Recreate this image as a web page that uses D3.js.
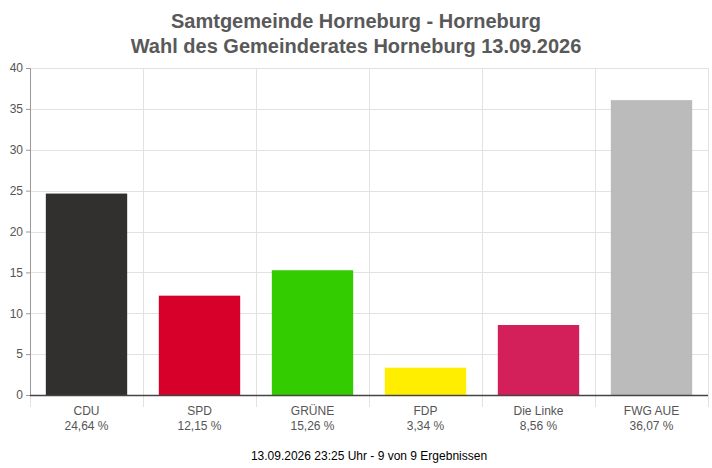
<!DOCTYPE html>
<html>
<head>
<meta charset="utf-8">
<script src="https://cdn.jsdelivr.net/npm/d3@7"></script>
<style>
  body { margin: 0; background: #fff; }
  text { font-family: 'Liberation Sans', Arial, sans-serif; }
</style>
</head>
<body>
<div id="chart"></div>
<script>
  const svgWidth = 712;
  const svgHeight = 468;
  const margin = { top: 68, right: 4, bottom: 73, left: 30 };

  const parties = ['CDU', 'SPD', 'GRÜNE', 'FDP', 'Die Linke', 'FWG AUE'];
  const shares = [24.64, 12.15, 15.26, 3.34, 8.56, 36.07];
  const colors = ['#32302e', '#d7002b', '#33cc00', '#ffee00', '#d31f5a', '#bbbbbb'];
  const yTicks = [0, 5, 10, 15, 20, 25, 30, 35, 40];
  const titleLines = ['Samtgemeinde Horneburg - Horneburg', 'Wahl des Gemeinderates Horneburg 13.09.2026'];
  const footer = '13.09.2026 23:25 Uhr - 9 von 9 Ergebnissen';

  const data = parties.map((p, i) => ({ party: p, share: shares[i], color: colors[i] }));
  const fmt = v => d3.format('.2f')(v).replace('.', ',') + ' %';

  const innerW = svgWidth - margin.left - margin.right;
  const innerH = svgHeight - margin.top - margin.bottom;

  const x = d3.scaleBand()
    .domain(parties)
    .range([0, innerW])
    .paddingInner(0.28)
    .paddingOuter(0.14);

  // boundaries of each category slot
  const slot = innerW / parties.length;

  const y = d3.scaleLinear()
    .domain([0, 40])
    .range([innerH, 0]);

  const svg = d3.select('#chart').append('svg')
    .attr('width', svgWidth)
    .attr('height', svgHeight);

  svg.selectAll('text.title')
    .data(titleLines)
    .enter()
    .append('text')
    .attr('class', 'title')
    .attr('x', svgWidth / 2)
    .attr('y', (d, i) => 28 + i * 25)
    .attr('text-anchor', 'middle')
    .style('font-size', '20px')
    .style('font-weight', 'bold')
    .style('fill', '#595959')
    .text(d => d);

  const g = svg.append('g')
    .attr('transform', `translate(${margin.left}, ${margin.top})`);

  // horizontal grid
  g.selectAll('line.hgrid')
    .data(yTicks.filter(t => t > 0))
    .enter()
    .append('line')
    .attr('class', 'hgrid')
    .attr('x1', 0)
    .attr('x2', innerW)
    .attr('y1', d => Math.round(y(d)) + 0.5)
    .attr('y2', d => Math.round(y(d)) + 0.5)
    .attr('stroke', '#e2e2e2');

  // vertical grid at category boundaries
  const bounds = d3.range(parties.length + 1);
  g.selectAll('line.vgrid')
    .data(bounds)
    .enter()
    .append('line')
    .attr('class', 'vgrid')
    .attr('x1', d => Math.round(d * slot) + 0.5)
    .attr('x2', d => Math.round(d * slot) + 0.5)
    .attr('y1', 0)
    .attr('y2', innerH + 12)
    .attr('stroke', '#e2e2e2');

  // y axis
  const yAxis = g.append('g')
    .call(d3.axisLeft(y).tickValues(yTicks).tickSize(4).tickPadding(3));
  yAxis.select('.domain').attr('stroke', '#999');
  yAxis.selectAll('.tick line').attr('stroke', '#999');
  yAxis.selectAll('.tick text')
    .style('font-size', '12px')
    .style('font-family', "'Liberation Sans', Arial, sans-serif")
    .style('fill', '#555');

  // bars
  g.selectAll('rect.bar')
    .data(data)
    .enter()
    .append('rect')
    .attr('class', 'bar')
    .attr('x', d => x(d.party))
    .attr('y', d => y(d.share))
    .attr('width', x.bandwidth())
    .attr('height', d => innerH - y(d.share))
    .style('fill', d => d.color);

  // x axis line
  g.append('line')
    .attr('x1', 0)
    .attr('x2', innerW)
    .attr('y1', innerH + 0.5)
    .attr('y2', innerH + 0.5)
    .attr('stroke', '#444')
    .attr('stroke-width', 1.5);

  // category labels
  const labels = g.selectAll('g.xlabel')
    .data(data)
    .enter()
    .append('g')
    .attr('class', 'xlabel')
    .attr('transform', d => `translate(${x(d.party) + x.bandwidth() / 2}, ${innerH})`);

  labels.append('text')
    .attr('y', 20)
    .attr('text-anchor', 'middle')
    .style('font-size', '12px')
    .style('fill', '#555')
    .text(d => d.party);

  labels.append('text')
    .attr('y', 35)
    .attr('text-anchor', 'middle')
    .style('font-size', '12px')
    .style('fill', '#555')
    .text(d => fmt(d.share));

  svg.append('text')
    .attr('x', margin.left + innerW / 2)
    .attr('y', 460)
    .attr('text-anchor', 'middle')
    .style('font-size', '12px')
    .style('fill', '#000')
    .text(footer);
</script>
</body>
</html>
